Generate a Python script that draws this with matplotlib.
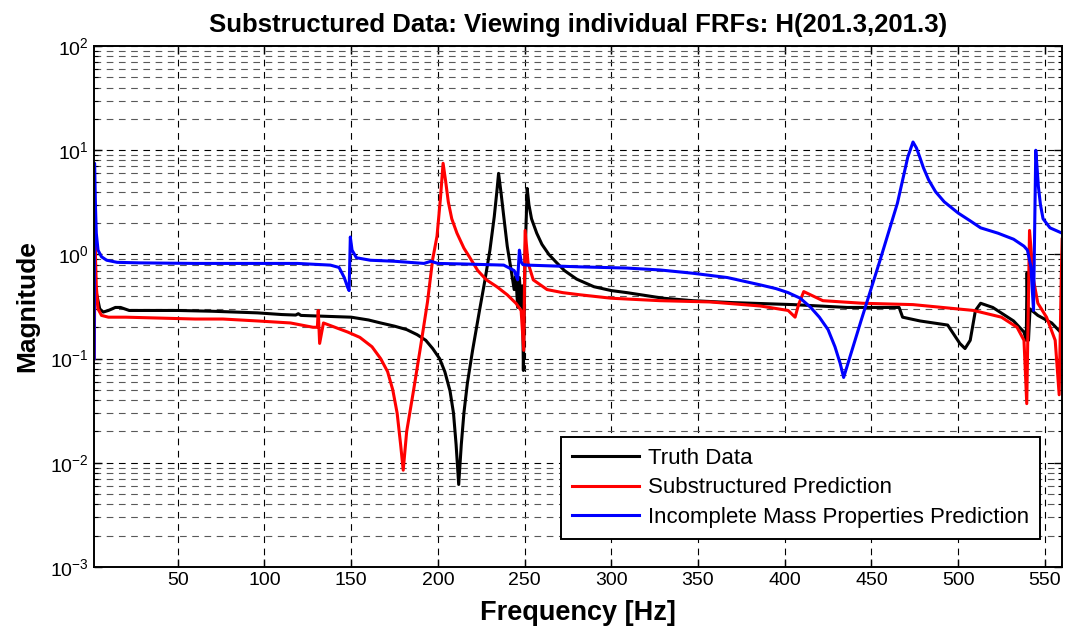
import numpy as np
import matplotlib
matplotlib.use('Agg')
import matplotlib.pyplot as plt
from matplotlib.ticker import LogLocator, FixedLocator

plt.rcParams['font.family'] = ['Liberation Sans', 'DejaVu Sans']
plt.rcParams['mathtext.default'] = 'regular'

# Truth Data
truth_f = [2.0, 3.0, 5, 7, 10, 14, 17, 22, 30, 50, 70, 96, 110, 118, 119.5, 121, 135, 150,
           160, 167, 175, 182, 188, 193, 197, 201, 204, 207, 209, 210.5, 212, 213.5, 215,
           217, 220, 224, 227, 230, 232.5, 234, 235, 236.5, 238, 240, 242, 244, 245, 246,
           247, 248, 248.7, 249.3, 250.3, 251.5, 252.5, 254, 257, 260, 264, 268, 273, 280,
           290, 300, 309, 330, 347, 370, 405, 436, 455, 466, 468, 478, 494, 501, 504, 507,
           510, 513, 520, 532, 538, 539.3, 539.8, 540.6, 541.5, 546, 554, 559, 560]
truth_m = [0.45, 0.43, 0.30, 0.28, 0.29, 0.31, 0.31, 0.29, 0.29, 0.29, 0.285, 0.275, 0.265,
           0.262, 0.27, 0.26, 0.255, 0.25, 0.235, 0.22, 0.205, 0.19, 0.17, 0.15, 0.125, 0.10,
           0.075, 0.049, 0.03, 0.015, 0.0062, 0.015, 0.03, 0.058, 0.12, 0.29, 0.55, 1.1,
           2.3, 4.0, 6.0, 3.8, 2.3, 1.2, 0.75, 0.46, 0.62, 0.31, 0.6, 0.32, 0.5, 0.077, 1.0,
           4.3, 3.0, 2.2, 1.6, 1.25, 1.0, 0.85, 0.7, 0.58, 0.49, 0.45, 0.43, 0.38, 0.36,
           0.345, 0.33, 0.31, 0.31, 0.31, 0.25, 0.23, 0.21, 0.14, 0.125, 0.15, 0.29, 0.34,
           0.31, 0.23, 0.18, 0.15, 0.67, 0.15, 0.3, 0.26, 0.22, 0.18, 0.15]

# Substructured Prediction
sub_f = [1.8, 2.3, 3.0, 4, 6, 10, 20, 40, 60, 76, 96, 115, 128, 130.5, 131, 131.8, 134,
         148, 155, 162, 167, 171, 174, 176.5, 178.5, 180, 182, 186, 190, 194, 197, 199.5,
         201.5, 203, 204.5, 206, 208, 211, 215, 219, 223, 228, 234, 240, 245, 248, 249.5,
         250.3, 252, 255, 263, 272, 282, 300, 328, 357, 386, 402, 406, 408, 411, 422, 445,
         474, 509, 525, 534, 538, 539.6, 541.2, 543.5, 546, 551, 556, 558.3, 559.5, 560]
sub_m = [0.1, 1.3, 0.5, 0.30, 0.26, 0.25, 0.25, 0.245, 0.24, 0.24, 0.23, 0.22, 0.20, 0.20,
         0.29, 0.14, 0.22, 0.18, 0.16, 0.13, 0.10, 0.075, 0.05, 0.03, 0.015, 0.0085, 0.02,
         0.05, 0.13, 0.35, 0.9, 1.5, 3.5, 7.5, 5.0, 3.2, 2.2, 1.6, 1.15, 0.9, 0.7, 0.57,
         0.49, 0.41, 0.34, 0.29, 0.12, 1.7, 0.83, 0.57, 0.46, 0.43, 0.41, 0.38, 0.36, 0.35,
         0.32, 0.29, 0.25, 0.33, 0.44, 0.36, 0.34, 0.33, 0.29, 0.25, 0.2, 0.15, 0.037, 1.7,
         0.57, 0.34, 0.25, 0.15, 0.045, 0.6, 1.4]

# Incomplete Mass Properties Prediction
inc_f = [1.8, 2.0, 2.5, 3.0, 4, 6, 9, 15, 28, 60, 100, 119, 138, 143, 146, 148, 148.8,
         149.5, 150.5, 153, 161, 175, 192, 196, 200, 215, 238, 244, 246, 247, 248, 249,
         251.5, 282, 309, 328, 347, 367, 386, 395, 402, 409, 415, 420, 425, 429, 432, 434,
         444, 455, 465, 471, 474, 476, 478, 480, 483, 487, 492, 500, 507, 513, 523, 532,
         538, 540, 542, 543.5, 544.8, 545.5, 546.3, 547.5, 549, 553, 560]
inc_m = [0.1, 7.5, 3.0, 1.6, 1.1, 0.95, 0.88, 0.84, 0.83, 0.82, 0.82, 0.82, 0.79, 0.75,
         0.6, 0.48, 0.45, 1.47, 1.1, 0.93, 0.88, 0.86, 0.82, 0.86, 0.82, 0.81, 0.79, 0.7,
         0.57, 1.1, 0.85, 0.8, 0.79, 0.76, 0.74, 0.71, 0.66, 0.6, 0.51, 0.47, 0.43, 0.38,
         0.31, 0.25, 0.19, 0.13, 0.09, 0.066, 0.23, 0.88, 3.1, 8.6, 12, 10.5, 8.5, 6.8,
         5.2, 4.0, 3.2, 2.5, 2.1, 1.8, 1.6, 1.4, 1.2, 1.1, 0.76, 0.29, 10, 7.0, 4.5, 3.0,
         2.2, 1.8, 1.6]

xticks = [50, 100, 150, 200, 250, 300, 350, 400, 450, 500, 550]

fig = plt.figure(figsize=(10.65, 6.35), dpi=100)
ax = fig.add_axes([0.0883, 0.107, 0.909, 0.8205])

ax.semilogy(truth_f, truth_m, color='black', lw=2.2, label='Truth Data')
ax.semilogy(sub_f, sub_m, color='red', lw=2.2, label='Substructured Prediction')
ax.semilogy(inc_f, inc_m, color='blue', lw=2.2, label='Incomplete Mass Properties Prediction')

ax.set_xlim(1.7, 560)
ax.set_ylim(1e-3, 1e2)
ax.xaxis.set_major_locator(FixedLocator(xticks))
ax.yaxis.set_major_locator(LogLocator(base=10, numticks=10))
ax.yaxis.set_minor_locator(LogLocator(base=10, subs=np.arange(2, 10), numticks=20))

ax.grid(True, which='major', color='black', linestyle=(0, (6, 5)), lw=0.8)
ax.grid(True, which='minor', axis='y', color='0.35', linestyle=(0, (6, 5)), lw=0.8)

ax.tick_params(which='both', direction='in', top=True, right=True, labelsize=14)
ax.tick_params(which='major', length=6, width=1)
ax.tick_params(which='minor', length=3, width=0.8)
for s in ax.spines.values():
    s.set_linewidth(1.4)

ax.set_title('Substructured Data: Viewing individual FRFs: H(201.3,201.3)',
             fontsize=18.5, fontweight='bold', pad=10)
ax.set_xlabel('Frequency [Hz]', fontsize=19.5, fontweight='bold', labelpad=8)
ax.set_ylabel('Magnitude', fontsize=19, fontweight='bold', labelpad=8)

leg = ax.legend(loc='lower right', bbox_to_anchor=(1040 / 1065, (635 - 539) / 635),
                bbox_transform=fig.transFigure, fontsize=16, fancybox=False,
                framealpha=1, edgecolor='black', handlelength=3.0, handletextpad=0.4,
                borderpad=0.5, labelspacing=0.38, borderaxespad=0)
leg.get_frame().set_linewidth(1.4)

fig.savefig('out.png', dpi=100)
